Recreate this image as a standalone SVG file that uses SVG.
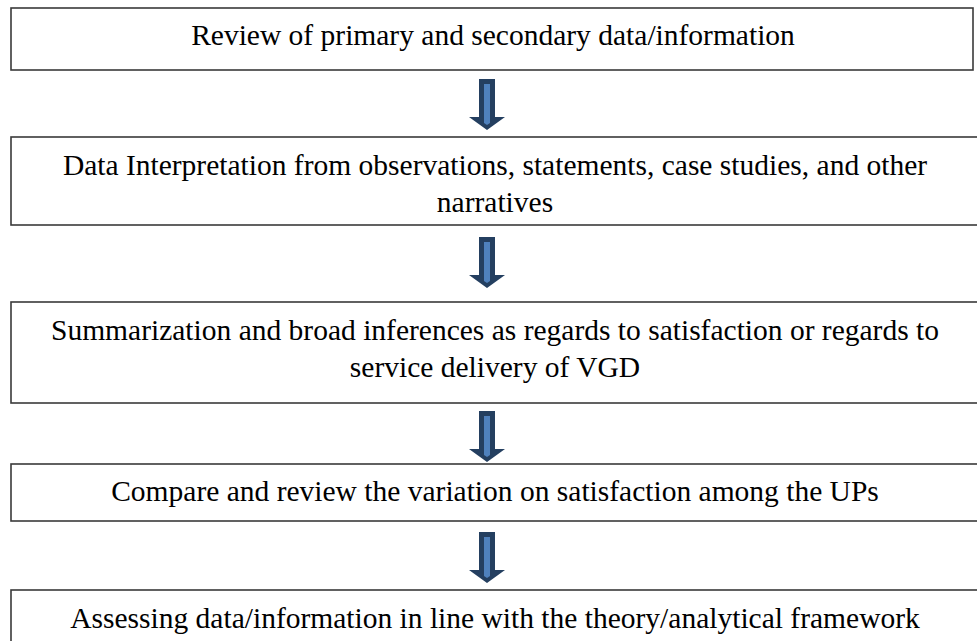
<svg xmlns="http://www.w3.org/2000/svg" width="977" height="641" viewBox="0 0 977 641">
  <defs>
    <style>
      .box { fill: #ffffff; stroke: #3a3a3a; stroke-width: 1.6; }
      .label { font-family: "Liberation Serif", "Times New Roman", serif; font-size: 29.5px; fill: #000000; text-anchor: middle; }
      .arrow-outer { fill: #243f60; }
      .arrow-inner { fill: #4f81bd; }
    </style>
    <g id="downArrow">
      <path class="arrow-outer" d="M-8,0 H8 V38 H18 L0,51 L-18,38 H-8 Z"/>
      <path class="arrow-inner" d="M-3,5 H3 V44 L0,46 L-3,44 Z"/>
    </g>
  </defs>

  <g id="step1">
    <rect class="box" x="11" y="8" width="962" height="62"/>
    <text class="label" x="493" y="45">Review of primary and secondary data/information</text>
  </g>

  <g id="step2">
    <rect class="box" x="11" y="137" width="970" height="88"/>
    <text class="label" x="495" y="175">Data Interpretation from observations, statements, case studies, and other</text>
    <text class="label" x="495" y="212">narratives</text>
  </g>

  <g id="step3">
    <rect class="box" x="11" y="302" width="970" height="101"/>
    <text class="label" x="495" y="340">Summarization and broad inferences as regards to satisfaction or regards to</text>
    <text class="label" x="495" y="377">service delivery of VGD</text>
  </g>

  <g id="step4">
    <rect class="box" x="11" y="464" width="970" height="57"/>
    <text class="label" x="495" y="501">Compare and review the variation on satisfaction among the UPs</text>
  </g>

  <g id="step5">
    <rect class="box" x="11" y="590" width="970" height="60"/>
    <text class="label" x="495" y="628">Assessing data/information in line with the theory/analytical framework</text>
  </g>

  <g id="connectors">
    <use href="#downArrow" x="487" y="79"/>
    <use href="#downArrow" x="487" y="237"/>
    <use href="#downArrow" x="487" y="411"/>
    <use href="#downArrow" x="487" y="532"/>
  </g>
</svg>
